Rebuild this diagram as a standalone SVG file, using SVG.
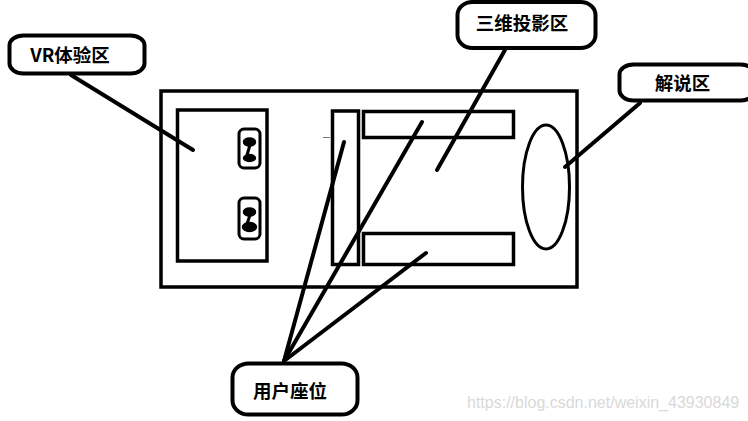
<svg xmlns="http://www.w3.org/2000/svg" width="748" height="421" viewBox="0 0 748 421">
<style>
.b{fill:#fff;stroke:#000;stroke-width:3.5}
.c{fill:#fff;stroke:#000;stroke-width:4}
.l{fill:none;stroke:#000;stroke-width:4;stroke-linecap:round}
.t{font-family:"Noto Sans CJK SC","Liberation Sans",sans-serif;font-weight:700;font-size:18.500px;fill:#000;text-anchor:middle}
.s{fill:#fff;stroke:#000;stroke-width:3}
.h{fill:#000;stroke:#000;stroke-width:1.5}
</style>
<rect width="748" height="421" fill="#fff"/>
<g id="hall"><rect class="b" x="161" y="91" width="416" height="196"/></g>
<g id="vr-room"><rect class="b" x="177.500" y="110" width="89.500" height="151"/></g>
<g id="device-1"><rect class="s" x="239" y="129" width="21" height="39" rx="5"/><ellipse class="h" cx="249.500" cy="142" rx="6" ry="4"/><ellipse class="h" cx="249.500" cy="158" rx="6" ry="3.500"/><path d="M250 145L247 155" fill="none" stroke="#000" stroke-width="3"/></g>
<g id="device-2"><rect class="s" x="239" y="198" width="21" height="41" rx="5"/><ellipse class="h" cx="249.500" cy="212" rx="6" ry="4"/><ellipse class="h" cx="249.500" cy="227" rx="7" ry="4.500"/><path d="M250 215L247 224" fill="none" stroke="#000" stroke-width="3"/></g>
<g id="seat-left"><rect class="b" x="332.500" y="111" width="26" height="153.500"/><path d="M323 137.500H330" stroke="#777" stroke-width="1"/></g>
<g id="seat-top"><rect class="b" x="363.500" y="111.500" width="150" height="26"/></g>
<g id="seat-bottom"><rect class="b" x="363.500" y="233.500" width="150" height="31"/></g>
<g id="narrator"><ellipse cx="546" cy="187" rx="23.500" ry="62" fill="#fff" stroke="#000" stroke-width="3"/></g>
<g id="connectors">
<path class="l" d="M71 75L193 150"/>
<path class="l" d="M505 50L437 170"/>
<path class="l" d="M640 103L565 167"/>
<path class="l" d="M284 361L344 142"/>
<path class="l" d="M284 361L422 122"/>
<path class="l" d="M284 361L426 253"/>
</g>
<g id="label-vr"><rect class="c" x="9.500" y="35.500" width="135" height="38" rx="14" ry="10"/><text class="t" x="70" y="62">VR体验区</text></g>
<g id="label-3d"><rect class="c" x="457.500" y="2" width="138" height="46" rx="15" ry="13"/><text class="t" x="522" y="30">三维投影区</text></g>
<g id="label-narrator"><rect class="c" x="619.500" y="64.500" width="135" height="36" rx="14" ry="10"/><text class="t" x="682.500" y="90">解说区</text></g>
<g id="label-seats"><rect class="c" x="232.500" y="363.500" width="125" height="51" rx="16" ry="14"/><text class="t" x="290" y="398">用户座位</text></g>
<text x="467" y="408" font-family="Liberation Sans,sans-serif" font-size="16" fill="#d9d9d9">https://blog.csdn.net/weixin_43930849</text>
</svg>
